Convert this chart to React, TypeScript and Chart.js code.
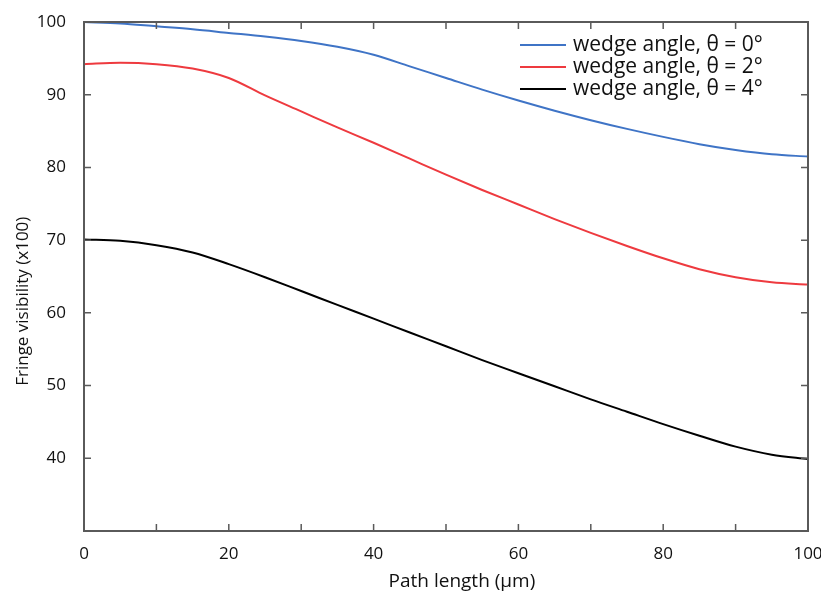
import React, { useEffect, useRef } from "react";
import { Chart, registerables } from "chart.js";

Chart.register(...registerables);

// Path length in µm
const pathLength = [0, 5, 10, 15, 20, 25, 30, 35, 40, 45, 50, 55, 60, 65, 70, 75, 80, 85, 90, 95, 100];

// Fringe visibility (x100) for each wedge angle
const visTheta0 = [100, 99.8, 99.4, 99.0, 98.5, 98.0, 97.4, 96.6, 95.5, 93.9, 92.3, 90.7, 89.2, 87.8, 86.5, 85.3, 84.2, 83.2, 82.4, 81.8, 81.5];
const visTheta2 = [94.2, 94.4, 94.2, 93.6, 92.3, 89.9, 87.7, 85.5, 83.4, 81.2, 79.0, 76.9, 74.9, 72.9, 71.0, 69.2, 67.5, 66.0, 64.9, 64.2, 63.9];
const visTheta4 = [70.1, 69.9, 69.3, 68.3, 66.7, 64.9, 63.0, 61.1, 59.2, 57.3, 55.4, 53.5, 51.7, 49.9, 48.1, 46.4, 44.7, 43.1, 41.6, 40.5, 39.9];

const seriesLabels = ["wedge angle, θ = 0°", "wedge angle, θ = 2°", "wedge angle, θ = 4°"];
const seriesColors = ["#3f74c6", "#ee3a3f", "#000000"];

const xLabeledTicks = [0, 20, 40, 60, 80, 100];
const yLabeledTicks = [40, 50, 60, 70, 80, 90, 100];

const xTitle = "Path length (µm)";
const yTitle = "Fringe visibility (x100)";

const FONT = "'Open Sans', 'Noto Sans', sans-serif";
const AXIS_COLOR = "#5a5a5a";
const TEXT_COLOR = "#111";

// Box frame, inward ticks on all four sides, axis titles and the in-plot legend
const framePlugin = {
  id: "frame",
  afterDatasetsDraw(chart: any) {
    const { ctx, chartArea: a, scales } = chart;
    const xs = scales.x;
    const ys = scales.y;
    ctx.save();
    ctx.strokeStyle = AXIS_COLOR;
    ctx.lineWidth = 2;
    ctx.strokeRect(a.left, a.top, a.right - a.left, a.bottom - a.top);
    ctx.lineWidth = 1.5;
    const tl = 7;
    for (let v = 0; v <= 100; v += 10) {
      const px = xs.getPixelForValue(v);
      ctx.beginPath();
      ctx.moveTo(px, a.bottom);
      ctx.lineTo(px, a.bottom - tl);
      ctx.moveTo(px, a.top);
      ctx.lineTo(px, a.top + tl);
      ctx.stroke();
    }
    for (let v = 30; v <= 100; v += 10) {
      const py = ys.getPixelForValue(v);
      ctx.beginPath();
      ctx.moveTo(a.left, py);
      ctx.lineTo(a.left + tl, py);
      ctx.moveTo(a.right, py);
      ctx.lineTo(a.right - tl, py);
      ctx.stroke();
    }

    // axis titles
    ctx.fillStyle = TEXT_COLOR;
    ctx.textAlign = "center";
    ctx.textBaseline = "middle";
    ctx.font = `19px ${FONT}`;
    ctx.fillText(xTitle, xs.getPixelForValue(52.2), a.bottom + 51);
    ctx.save();
    ctx.translate(23, ys.getPixelForValue(61.6));
    ctx.rotate(-Math.PI / 2);
    ctx.font = `17px ${FONT}`;
    ctx.fillText(yTitle, 0, 0);
    ctx.restore();

    // legend
    const lx0 = a.right - 288;
    const lx1 = lx0 + 46;
    let ly = a.top + 23;
    ctx.font = `21px ${FONT}`;
    ctx.textBaseline = "middle";
    ctx.textAlign = "left";
    chart.data.datasets.forEach((ds: any) => {
      ctx.strokeStyle = ds.borderColor;
      ctx.lineWidth = 2;
      ctx.beginPath();
      ctx.moveTo(lx0, ly);
      ctx.lineTo(lx1, ly);
      ctx.stroke();
      ctx.fillStyle = TEXT_COLOR;
      ctx.fillText(ds.label, lx1 + 7, ly);
      ly += 22;
    });
    ctx.restore();
  },
};

export default function App() {
  const canvasRef = useRef<HTMLCanvasElement | null>(null);

  useEffect(() => {
    if (!canvasRef.current) return;
    const series = [visTheta0, visTheta2, visTheta4];
    const chart = new Chart(canvasRef.current, {
      type: "line",
      data: {
        datasets: series.map((vals, i) => ({
          label: seriesLabels[i],
          data: pathLength.map((x, j) => ({ x, y: vals[j] })),
          borderColor: seriesColors[i],
          backgroundColor: seriesColors[i],
          borderWidth: 2,
          pointRadius: 0,
          cubicInterpolationMode: "monotone" as const,
          fill: false,
        })),
      },
      options: {
        animation: false,
        responsive: false,
        maintainAspectRatio: false,
        layout: { padding: { top: 22, right: 13, left: 0, bottom: 0 } },
        plugins: {
          legend: { display: false },
          tooltip: { enabled: false },
        },
        scales: {
          x: {
            type: "linear",
            min: 0,
            max: 100,
            afterBuildTicks: (s: any) => {
              s.ticks = xLabeledTicks.map((v) => ({ value: v }));
            },
            afterFit: (s: any) => {
              s.height = 64;
              s.paddingLeft = 0;
              s.paddingRight = 0;
            },
            grid: { display: false, drawTicks: false },
            border: { display: false },
            ticks: {
              color: TEXT_COLOR,
              font: { family: FONT, size: 17 },
              padding: 13,
              maxRotation: 0,
            },
            title: { display: false },
          },
          y: {
            type: "linear",
            min: 30,
            max: 100,
            afterBuildTicks: (s: any) => {
              s.ticks = yLabeledTicks.map((v) => ({ value: v }));
            },
            afterFit: (s: any) => {
              s.width = 84;
              s.paddingTop = 0;
              s.paddingBottom = 0;
            },
            grid: { display: false, drawTicks: false },
            border: { display: false },
            ticks: {
              color: TEXT_COLOR,
              font: { family: FONT, size: 17 },
              padding: 18,
            },
            title: { display: false },
          },
        },
      },
      plugins: [framePlugin],
    });
    return () => chart.destroy();
  }, []);

  return (
    <div style={{ position: "fixed", left: 0, top: 0, width: 821, height: 595, background: "#fff" }}>
      <canvas ref={canvasRef} width={821} height={595} style={{ width: 821, height: 595 }} />
    </div>
  );
}
